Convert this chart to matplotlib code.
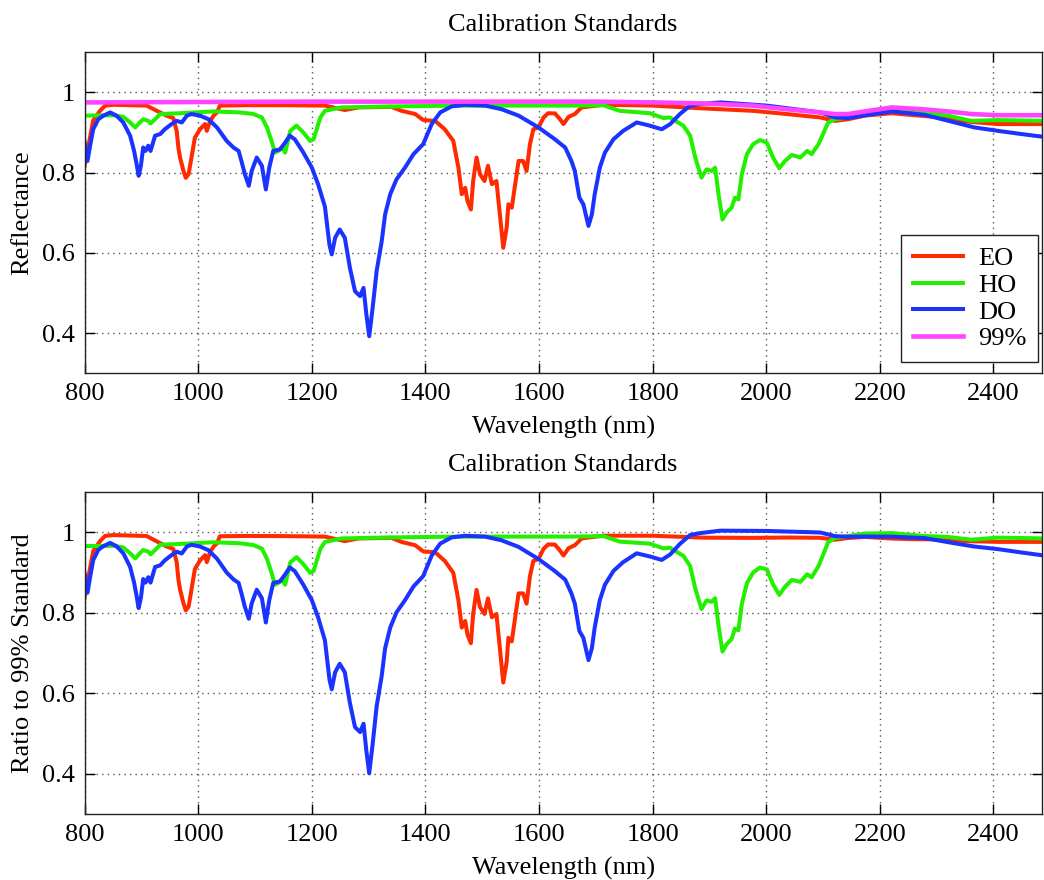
import numpy as np
import matplotlib
matplotlib.use("Agg")
import matplotlib.pyplot as plt

# ---- data ----
eo_wl = [800, 806, 815, 827, 836, 850, 880, 909, 927, 944, 956, 962, 965, 968, 974, 978, 983, 988, 994, 1003,
         1012, 1015, 1021, 1027, 1033, 1038, 1085, 1150, 1223, 1258, 1282, 1340, 1358, 1382, 1396, 1417, 1434,
         1449, 1458, 1464, 1470, 1474, 1480, 1484, 1490, 1496, 1504, 1510, 1517, 1525, 1531, 1537, 1543, 1546,
         1552, 1558, 1564, 1572, 1578, 1584, 1590, 1599, 1608, 1616, 1628, 1637, 1643, 1652, 1663, 1675, 1713,
         1801, 1889, 1977, 2036, 2095, 2121, 2144, 2174, 2221, 2262, 2309, 2350, 2408, 2489]
eo_val = [0.817, 0.862, 0.93, 0.954, 0.967, 0.969, 0.968, 0.967, 0.954, 0.942, 0.936, 0.904, 0.862, 0.837, 0.804,
          0.787, 0.796, 0.837, 0.887, 0.908, 0.921, 0.904, 0.929, 0.942, 0.95, 0.967, 0.968, 0.968, 0.967, 0.956,
          0.9625, 0.964, 0.954, 0.946, 0.931, 0.929, 0.908, 0.879, 0.8125, 0.746, 0.762, 0.729, 0.708, 0.779,
          0.8375, 0.796, 0.779, 0.817, 0.771, 0.779, 0.696, 0.6125, 0.6625, 0.721, 0.7125, 0.771, 0.829, 0.829,
          0.804, 0.871, 0.908, 0.9125, 0.9375, 0.948, 0.9475, 0.933, 0.921, 0.939, 0.946, 0.9625, 0.969, 0.967,
          0.96, 0.954, 0.946, 0.9375, 0.929, 0.933, 0.942, 0.948, 0.943, 0.9375, 0.9275, 0.921, 0.921]

ho_wl = [800, 850, 868, 880, 889, 897, 903, 912, 916, 924, 933, 968, 1027, 1074, 1097, 1112, 1121, 1129, 1135,
         1141, 1147, 1153, 1162, 1173, 1185, 1197, 1203, 1215, 1223, 1252, 1340, 1458, 1663, 1713, 1742, 1795,
         1819, 1830, 1854, 1866, 1875, 1886, 1895, 1904, 1910, 1916, 1923, 1930, 1939, 1945, 1951, 1957, 1966,
         1977, 1989, 2001, 2012, 2023, 2033, 2045, 2060, 2072, 2080, 2092, 2100, 2109, 2121, 2144, 2174, 2221,
         2274, 2320, 2361, 2408, 2489]
ho_val = [0.942, 0.943, 0.939, 0.925, 0.9125, 0.925, 0.933, 0.929, 0.9225, 0.933, 0.946, 0.948, 0.9525, 0.95,
          0.946, 0.9375, 0.9125, 0.879, 0.85, 0.854, 0.8625, 0.85, 0.904, 0.917, 0.9, 0.879, 0.883, 0.9375, 0.954,
          0.9625, 0.965, 0.967, 0.967, 0.968, 0.954, 0.948, 0.936, 0.9375, 0.917, 0.892, 0.8375, 0.7875, 0.808,
          0.804, 0.8125, 0.746, 0.683, 0.7, 0.7125, 0.7375, 0.733, 0.796, 0.846, 0.871, 0.881, 0.875, 0.8375,
          0.811, 0.829, 0.844, 0.8375, 0.854, 0.846, 0.871, 0.896, 0.925, 0.933, 0.9375, 0.95, 0.961, 0.95,
          0.942, 0.929, 0.931, 0.929]

do_wl = [800, 805, 809, 815, 824, 833, 845, 856, 868, 880, 887, 892, 895, 899, 903, 907, 912, 916, 924, 933,
         941, 953, 962, 971, 980, 988, 1003, 1018, 1033, 1050, 1062, 1071, 1076, 1082, 1089, 1094, 1103, 1112,
         1119, 1125, 1132, 1144, 1153, 1161, 1170, 1185, 1200, 1211, 1223, 1231, 1235, 1241, 1249, 1258, 1267,
         1276, 1285, 1291, 1296, 1301, 1307, 1314, 1323, 1329, 1338, 1349, 1364, 1379, 1396, 1411, 1426, 1446,
         1470, 1505, 1534, 1564, 1599, 1628, 1646, 1657, 1663, 1671, 1678, 1687, 1693, 1698, 1707, 1716, 1731,
         1748, 1772, 1795, 1816, 1831, 1848, 1866, 1883, 1919, 2001, 2095, 2121, 2144, 2174, 2221, 2279, 2332,
         2367, 2408, 2450, 2489]
do_val = [0.875, 0.829, 0.8625, 0.908, 0.933, 0.942, 0.95, 0.942, 0.925, 0.892, 0.854, 0.817, 0.792, 0.817,
          0.8625, 0.854, 0.867, 0.854, 0.892, 0.896, 0.908, 0.921, 0.929, 0.925, 0.942, 0.946, 0.942, 0.933,
          0.9125, 0.879, 0.8625, 0.854, 0.829, 0.796, 0.767, 0.804, 0.8375, 0.817, 0.758, 0.8125, 0.854, 0.858,
          0.875, 0.892, 0.883, 0.85, 0.8125, 0.771, 0.715, 0.62, 0.596, 0.6375, 0.658, 0.6375, 0.5625, 0.504,
          0.492, 0.5125, 0.446, 0.392, 0.4625, 0.554, 0.629, 0.696, 0.746, 0.783, 0.8125, 0.846, 0.871, 0.921,
          0.95, 0.965, 0.969, 0.967, 0.958, 0.942, 0.9125, 0.883, 0.8625, 0.829, 0.804, 0.7375, 0.721, 0.667,
          0.696, 0.746, 0.8125, 0.85, 0.883, 0.904, 0.925, 0.917, 0.908, 0.921, 0.946, 0.967, 0.971, 0.975,
          0.967, 0.95, 0.9375, 0.936, 0.943, 0.9525, 0.944, 0.925, 0.9125, 0.904, 0.896, 0.889]

ref_wl = [800, 1000, 1200, 1400, 1600, 1700, 1800, 1889, 1977, 2036, 2095, 2121, 2144, 2174, 2221, 2274, 2320,
          2361, 2408, 2489]
ref_val = [0.975, 0.976, 0.977, 0.977, 0.977, 0.977, 0.975, 0.9725, 0.967, 0.958, 0.95, 0.946, 0.946, 0.9525,
           0.9625, 0.958, 0.9525, 0.946, 0.943, 0.943]

labels = ["EO", "HO", "DO", "99%"]
colors = ["#ff2a00", "#22f000", "#1a33ff", "#ff44ff"]
xticks = [800, 1000, 1200, 1400, 1600, 1800, 2000, 2200, 2400]
yticks = [0.4, 0.6, 0.8, 1.0]
yticklabels = ["0.4", "0.6", "0.8", "1"]

# ---- figure ----
plt.rcParams['font.family'] = ['Liberation Serif', 'DejaVu Serif']
FS = 19
LW = 2.9
fig = plt.figure(figsize=(10.44, 8.8), dpi=100)
ax1 = fig.add_axes([0.0811, 0.576, 0.9167, 0.3646])
ax2 = fig.add_axes([0.0811, 0.075, 0.9167, 0.3656])

samples = [(eo_wl, eo_val), (ho_wl, ho_val), (do_wl, do_val)]

for (wl, v), c, lab in zip(samples, colors[:3], labels[:3]):
    ax1.plot(wl, v, color=c, lw=LW, label=lab)
ax1.plot(ref_wl, ref_val, color=colors[3], lw=LW + 0.4, label=labels[3])

# ratio to the 99% standard
for (wl, v), c in zip(samples, colors[:3]):
    ratio = np.asarray(v) / np.interp(wl, ref_wl, ref_val)
    ax2.plot(wl, ratio, color=c, lw=LW)

for ax, ylab in [(ax1, "Reflectance"), (ax2, "Ratio to 99% Standard")]:
    ax.set_xlim(800, 2485)
    ax.set_ylim(0.3, 1.1)
    ax.set_xticks(xticks)
    ax.set_yticks(yticks)
    ax.set_yticklabels(yticklabels)
    ax.tick_params(direction='in', top=True, right=True, length=7, width=1, labelsize=FS, pad=7)
    ax.grid(True, linestyle=(0, (1, 3)), color='#555555', linewidth=1)
    ax.set_axisbelow(True)
    for s in ax.spines.values():
        s.set_linewidth(1)
        s.set_color('#222222')
    ax.set_xlabel("Wavelength (nm)", fontsize=FS, labelpad=8)
    ax.set_ylabel(ylab, fontsize=FS, labelpad=6)
    ax.set_title("Calibration Standards", fontsize=FS, pad=15)

leg = ax1.legend(loc='lower right', bbox_to_anchor=(0.9962, 0.034), borderaxespad=0, fontsize=FS,
                 fancybox=False, framealpha=1, edgecolor='#222222', handlelength=1.9, labelspacing=0.12,
                 handletextpad=0.55, borderpad=0.45)
leg.get_frame().set_linewidth(1)

fig.savefig("out.png", dpi=100)
